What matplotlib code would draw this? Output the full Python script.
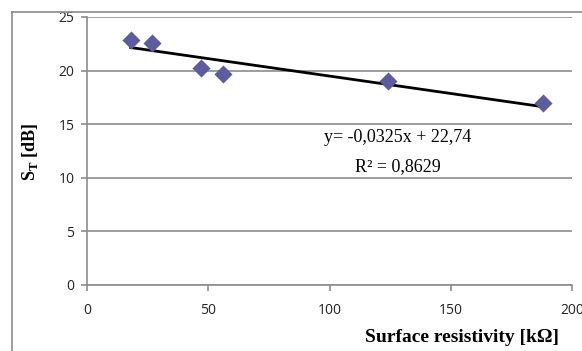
import matplotlib.pyplot as plt
import numpy as np
from matplotlib.lines import Line2D

# data
resistivity = [18, 27, 47, 56, 124, 188]
st_db = [22.9, 22.6, 20.2, 19.7, 19.0, 17.0]

# trendline from the chart equation
slope = -0.0325
intercept = 22.74
r2_text = "0,8629"

xticks = [0, 50, 100, 150, 200]
yticks = [0, 5, 10, 15, 20, 25]

W, H = 582, 351
fig = plt.figure(figsize=(W / 100, H / 100), dpi=100)
ax = fig.add_axes([87 / W, 1 - 285 / H, (572 - 87) / W, (285 - 17) / H])

grey = '#8c8c8c'

# outer chart border (cut off at right and bottom)
fig.add_artist(Line2D([12 / W, 12 / W], [0, 1 - 12 / H], color=grey, lw=1.2))
fig.add_artist(Line2D([12 / W, 1], [1 - 12 / H, 1 - 12 / H], color=grey, lw=1.2))

ax.set_xlim(0, 200)
ax.set_ylim(0, 25)
ax.set_xticks(xticks)
ax.set_yticks(yticks)
ax.grid(axis='y', color=grey, lw=1.2)
ax.set_axisbelow(True)
for s in ['top', 'right']:
    ax.spines[s].set_visible(False)
for s in ['left', 'bottom']:
    ax.spines[s].set_color(grey)
    ax.spines[s].set_linewidth(1.2)
ax.tick_params(colors=grey, length=4, width=1.2, labelcolor='#222222',
               labelsize=10)
ax.tick_params(axis='x', pad=9)
ax.tick_params(axis='y', pad=5)
for lab in ax.get_xticklabels() + ax.get_yticklabels():
    lab.set_family('Open Sans')

fit_x = np.array([min(resistivity), max(resistivity)])
ax.plot(fit_x, slope * fit_x + intercept, color='black', lw=2, zorder=3)
ax.scatter(resistivity, st_db, marker='D', s=85, color='#5c5c9e', zorder=4,
           linewidths=0)

ax.text(128, 13.8, "y= -0,0325x + 22,74", family='Liberation Serif',
        fontsize=13, ha='center', va='center')
ax.text(128, 11.0, "R² = " + r2_text, family='Liberation Serif',
        fontsize=13, ha='center', va='center')

fig.text(30 / W, 1 - 152 / H, r"S$_\mathregular{T}$ [dB]", rotation=90,
         family='Liberation Serif', weight='bold', fontsize=13,
         ha='center', va='center')
fig.text(462 / W, 1 - 338 / H, "Surface resistivity [kΩ]",
         family='Liberation Serif', weight='bold', fontsize=14,
         ha='center', va='center')

fig.savefig('out.png', dpi=100)
